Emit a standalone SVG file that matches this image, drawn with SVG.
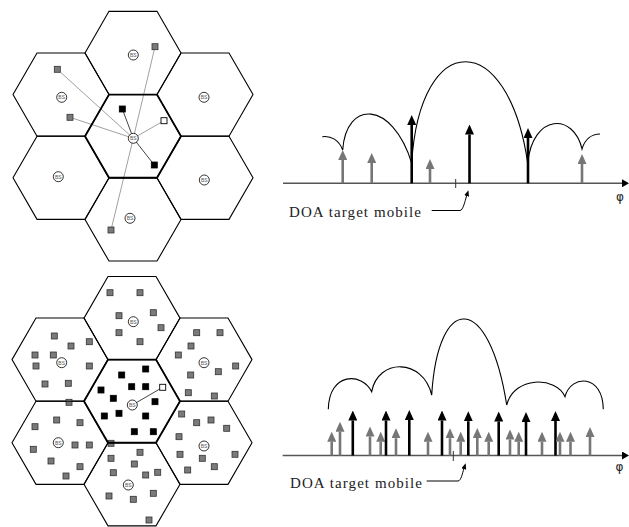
<svg xmlns="http://www.w3.org/2000/svg" xmlns:xlink="http://www.w3.org/1999/xlink" width="629" height="527" viewBox="0 0 629 527">
<style>
.hex{fill:none;stroke:#000;stroke-width:1.1}
.hexc{fill:none;stroke:#000;stroke-width:1.8}
.bs{fill:#fff;stroke:#000;stroke-width:0.8}
.bst{font-family:"Liberation Sans",Arial,sans-serif;font-size:5px;fill:#555;text-anchor:middle}
.mg{fill:#7a7a7a;stroke:#333;stroke-width:0.8}
.mk{fill:#000;stroke:#000;stroke-width:0.8}
.mw{fill:#fff;stroke:#000;stroke-width:0.9}
.ln{stroke:#888;stroke-width:0.8;fill:none}
.lnk{stroke:#444;stroke-width:1;fill:none}
.axis{stroke:#555;stroke-width:1.5;fill:none}
.ag{stroke:#767676;stroke-width:2.6;marker-end:url(#hg)}
.ak{stroke:#000;stroke-width:2.6;marker-end:url(#hk)}
.curve{fill:none;stroke:#000;stroke-width:1.1}
.lbl{font-family:"Liberation Serif","Times New Roman",serif;font-size:15px;fill:#222}
.phi{font-family:"DejaVu Sans",sans-serif;font-size:12px;fill:#222;text-anchor:middle}
.lead{fill:none;stroke:#000;stroke-width:1;marker-end:url(#hs)}
.tick{stroke:#333;stroke-width:1}
</style>
<defs>
<polygon id="hx" points="-48,0 -24,-41.57 24,-41.57 48,0 24,41.57 -24,41.57"/>
<marker id="hg" viewBox="0 -4.5 10 9" refX="0" refY="0" markerWidth="10" markerHeight="9" markerUnits="userSpaceOnUse" orient="auto"><path d="M0,-4.5 L10,0 L0,4.5 z" fill="#767676"/></marker>
<marker id="hk" viewBox="0 -4.5 10 9" refX="0" refY="0" markerWidth="10" markerHeight="9" markerUnits="userSpaceOnUse" orient="auto"><path d="M0,-4.5 L10,0 L0,4.5 z" fill="#000"/></marker>
<marker id="hs" viewBox="0 -2.5 6 5" refX="0" refY="0" markerWidth="6" markerHeight="5" markerUnits="userSpaceOnUse" orient="auto"><path d="M0,-2.5 L6,0 L0,2.5 z" fill="#000"/></marker>
<marker id="ha" viewBox="0 -4 7 8" refX="0" refY="0" markerWidth="7" markerHeight="8" markerUnits="userSpaceOnUse" orient="auto"><path d="M0,-4 L7,0 L0,4 z" fill="#000"/></marker>
</defs>
<rect width="629" height="527" fill="#fff"/>

<!-- connectors of top cell grid -->
<g id="connectors">
<line class="ln" x1="133.3" y1="138.3" x2="155" y2="46.7"/>
<line class="ln" x1="133.3" y1="138.3" x2="57.3" y2="69.3"/>
<line class="ln" x1="133.3" y1="138.3" x2="70" y2="117.3"/>
<line class="lnk" x1="133.3" y1="138.3" x2="122.3" y2="109"/>
<line class="ln" x1="133.3" y1="138.3" x2="164" y2="120.7"/>
<line class="lnk" x1="133.3" y1="138.3" x2="154.3" y2="165"/>
<line class="ln" x1="133.3" y1="138.3" x2="111" y2="230"/>
<line class="lnk" x1="132.3" y1="405" x2="162.7" y2="387.3"/>
</g>

<!-- top cell grid -->
<g id="t-top"><use href="#hx" class="hex" x="133" y="52.9"/>
<circle class="bs" cx="133.3" cy="55" r="5"/><text class="bst" x="133.3" y="56.8">BS</text>
<rect class="mg" x="152" y="43.7" width="6" height="6"/></g>
<g id="t-ul"><use href="#hx" class="hex" x="61" y="94.6"/>
<circle class="bs" cx="61.7" cy="97.3" r="5"/><text class="bst" x="61.7" y="99.1">BS</text>
<rect class="mg" x="54.3" y="66.3" width="6" height="6"/>
<rect class="mg" x="67" y="114.3" width="6" height="6"/></g>
<g id="t-ur"><use href="#hx" class="hex" x="205" y="94.6"/>
<circle class="bs" cx="204" cy="97.3" r="5"/><text class="bst" x="204" y="99.1">BS</text></g>
<g id="t-ll"><use href="#hx" class="hex" x="61" y="177.8"/>
<circle class="bs" cx="58.3" cy="176.7" r="5"/><text class="bst" x="58.3" y="178.5">BS</text></g>
<g id="t-lr"><use href="#hx" class="hex" x="205" y="177.8"/>
<circle class="bs" cx="204.3" cy="180" r="5"/><text class="bst" x="204.3" y="181.8">BS</text></g>
<g id="t-bot"><use href="#hx" class="hex" x="133" y="219.5"/>
<circle class="bs" cx="130" cy="218.3" r="5"/><text class="bst" x="130" y="220.1">BS</text>
<rect class="mg" x="108" y="227" width="6" height="6"/></g>
<g id="t-center"><use href="#hx" class="hexc" x="133" y="136.2"/>
<circle class="bs" cx="133.3" cy="138.3" r="5"/><text class="bst" x="133.3" y="140.1">BS</text>
<rect class="mk" x="119.3" y="106" width="6" height="6"/>
<rect class="mw" x="161" y="117.7" width="6" height="6"/>
<rect class="mk" x="151.3" y="162" width="6" height="6"/></g>

<!-- bottom cell grid -->
<g id="b-top"><use href="#hx" class="hex" x="132" y="318.1"/>
<circle class="bs" cx="133.3" cy="321.7" r="5"/><text class="bst" x="133.3" y="323.5">BS</text>
<rect class="mg" x="107" y="289.7" width="6" height="6"/><rect class="mg" x="137" y="289.7" width="6" height="6"/>
<rect class="mg" x="116" y="312.7" width="6" height="6"/><rect class="mg" x="150.3" y="309.7" width="6" height="6"/>
<rect class="mg" x="158" y="324.7" width="6" height="6"/><rect class="mg" x="116" y="329.7" width="6" height="6"/>
<rect class="mg" x="137" y="338.7" width="6" height="6"/></g>
<g id="b-ul"><use href="#hx" class="hex" x="60" y="359.6"/>
<circle class="bs" cx="61.7" cy="362.7" r="5"/><text class="bst" x="61.7" y="364.5">BS</text>
<rect class="mg" x="51.3" y="333" width="6" height="6"/><rect class="mg" x="68" y="343" width="6" height="6"/>
<rect class="mg" x="86.3" y="338.7" width="6" height="6"/><rect class="mg" x="32" y="352" width="6" height="6"/>
<rect class="mg" x="50.3" y="352" width="6" height="6"/><rect class="mg" x="33" y="363" width="6" height="6"/>
<rect class="mg" x="86.3" y="363" width="6" height="6"/><rect class="mg" x="42" y="381" width="6" height="6"/>
<rect class="mg" x="65.3" y="380.3" width="6" height="6"/><rect class="mg" x="66" y="399.3" width="6" height="6"/></g>
<g id="b-ur"><use href="#hx" class="hex" x="204" y="359.6"/>
<circle class="bs" cx="204" cy="362.7" r="5"/><text class="bst" x="204" y="364.5">BS</text>
<rect class="mg" x="193.7" y="329.7" width="6" height="6"/><rect class="mg" x="217" y="329.7" width="6" height="6"/>
<rect class="mg" x="188" y="343" width="6" height="6"/><rect class="mg" x="175.3" y="352" width="6" height="6"/>
<rect class="mg" x="215.3" y="368.7" width="6" height="6"/><rect class="mg" x="232.7" y="363" width="6" height="6"/>
<rect class="mg" x="187.7" y="372" width="6" height="6"/><rect class="mg" x="185.3" y="389.7" width="6" height="6"/>
<rect class="mg" x="211.3" y="393" width="6" height="6"/></g>
<g id="b-ll"><use href="#hx" class="hex" x="60" y="442.8"/>
<circle class="bs" cx="58.3" cy="442.7" r="5"/><text class="bst" x="58.3" y="444.5">BS</text>
<rect class="mg" x="53.7" y="417" width="6" height="6"/><rect class="mg" x="77" y="419.7" width="6" height="6"/>
<rect class="mg" x="32" y="423.7" width="6" height="6"/><rect class="mg" x="72" y="442" width="6" height="6"/>
<rect class="mg" x="86.3" y="442" width="6" height="6"/><rect class="mg" x="30.3" y="446.3" width="6" height="6"/>
<rect class="mg" x="48" y="458" width="6" height="6"/><rect class="mg" x="77" y="463.7" width="6" height="6"/>
<rect class="mg" x="63" y="473" width="6" height="6"/><rect class="mg" x="108" y="440.3" width="6" height="6"/></g>
<g id="b-lr"><use href="#hx" class="hex" x="204" y="442.8"/>
<circle class="bs" cx="204" cy="446" r="5"/><text class="bst" x="204" y="447.8">BS</text>
<rect class="mg" x="178.7" y="411" width="6" height="6"/><rect class="mg" x="193.7" y="419.7" width="6" height="6"/>
<rect class="mg" x="208" y="417" width="6" height="6"/><rect class="mg" x="223.7" y="425.3" width="6" height="6"/>
<rect class="mg" x="176" y="433.7" width="6" height="6"/><rect class="mg" x="177" y="451.3" width="6" height="6"/>
<rect class="mg" x="199.3" y="455.3" width="6" height="6"/><rect class="mg" x="232" y="451.3" width="6" height="6"/>
<rect class="mg" x="184.7" y="467" width="6" height="6"/><rect class="mg" x="211.3" y="463.7" width="6" height="6"/></g>
<g id="b-bot"><use href="#hx" class="hex" x="132" y="484.3"/>
<circle class="bs" cx="128.3" cy="485" r="5"/><text class="bst" x="128.3" y="486.8">BS</text>
<rect class="mg" x="137" y="449.3" width="6" height="6"/><rect class="mg" x="108" y="455.3" width="6" height="6"/>
<rect class="mg" x="131.3" y="461" width="6" height="6"/><rect class="mg" x="110.3" y="469.7" width="6" height="6"/>
<rect class="mg" x="142.7" y="472" width="6" height="6"/><rect class="mg" x="154.7" y="469.3" width="6" height="6"/>
<rect class="mg" x="150.3" y="490.3" width="6" height="6"/><rect class="mg" x="106" y="493" width="6" height="6"/>
<rect class="mg" x="130.3" y="496.3" width="6" height="6"/><rect class="mg" x="146" y="517" width="6" height="6"/></g>
<g id="b-center"><use href="#hx" class="hexc" x="132" y="401.2"/>
<circle class="bs" cx="132.3" cy="405" r="5"/><text class="bst" x="132.3" y="406.8">BS</text>
<rect class="mk" x="142.7" y="366" width="6" height="6"/><rect class="mk" x="118.7" y="372" width="6" height="6"/>
<rect class="mk" x="128.7" y="383.7" width="6" height="6"/><rect class="mk" x="142.7" y="383.7" width="6" height="6"/>
<rect class="mk" x="98" y="387" width="6" height="6"/><rect class="mk" x="110.3" y="395.3" width="6" height="6"/>
<rect class="mk" x="152" y="398.7" width="6" height="6"/><rect class="mk" x="116" y="410.3" width="6" height="6"/>
<rect class="mk" x="101.3" y="413" width="6" height="6"/><rect class="mk" x="142.7" y="413" width="6" height="6"/>
<rect class="mk" x="131.3" y="428.7" width="6" height="6"/><rect class="mk" x="150.3" y="428.7" width="6" height="6"/>
<rect class="mw" x="159.7" y="384.3" width="6" height="6"/></g>

<!-- top angular plot -->
<g id="plot-top">
<path class="curve" d="M322.3,136.7 C331,135.5 339,140 342.7,150 C346,100 392,100 411.7,163 C420,28 508,28 527.7,163 C533,113 574,113 582,149 C585,139 592,134 600,134"/>
<line class="axis" x1="283" y1="183.3" x2="622" y2="183.3" marker-end="url(#ha)"/>
<line class="ag" x1="342.7" y1="183.3" x2="342.7" y2="160"/>
<line class="ag" x1="371.7" y1="183.3" x2="371.7" y2="163"/>
<line class="ak" x1="411.7" y1="183.3" x2="411.7" y2="125"/>
<line class="ag" x1="430" y1="183.3" x2="430" y2="169"/>
<line class="ak" x1="469.5" y1="183.3" x2="469.5" y2="134.5"/>
<line class="ak" x1="528" y1="183.3" x2="528" y2="138"/>
<line class="ag" x1="582" y1="183.3" x2="582" y2="164"/>
<line class="tick" x1="455.7" y1="179" x2="455.7" y2="188"/>
<text class="phi" x="620" y="201">φ</text>
<text class="lbl" x="289" y="216.7" textLength="132" lengthAdjust="spacing">DOA target mobile</text>
<path class="lead" d="M431.7,210.5 L460,210.5 C463,210.5 465,201 466.6,196"/>
</g>

<!-- bottom angular plot -->
<g id="plot-bottom">
<path class="curve" d="M328.3,409.3 C329,372 362,372 371.7,391.7 C378,358 423,358 431.7,395 C438,292 489,292 506.7,405 C514,376 556,376 565,396.7 C571,374 603,374 603.3,409.3"/>
<line class="axis" x1="282.7" y1="455.5" x2="622" y2="455.5" marker-end="url(#ha)"/>
<line class="ag" x1="331.7" y1="455.5" x2="331.7" y2="441.7"/>
<line class="ag" x1="340" y1="455.5" x2="340" y2="431.7"/>
<line class="ak" x1="352.8" y1="455.5" x2="352.8" y2="420.5"/>
<line class="ag" x1="370" y1="455.5" x2="370" y2="436.5"/>
<line class="ag" x1="380.7" y1="455.5" x2="380.7" y2="441.7"/>
<line class="ak" x1="386" y1="455.5" x2="386" y2="420.5"/>
<line class="ag" x1="396" y1="455.5" x2="396" y2="438.2"/>
<line class="ak" x1="409.3" y1="455.5" x2="409.3" y2="420"/>
<line class="ag" x1="428" y1="455.5" x2="428" y2="441.7"/>
<line class="ak" x1="442" y1="455.5" x2="442" y2="420.5"/>
<line class="ag" x1="450" y1="455.5" x2="450" y2="438.2"/>
<line class="ag" x1="460.7" y1="455.5" x2="460.7" y2="441.7"/>
<line class="ak" x1="468.3" y1="455.5" x2="468.3" y2="421.2"/>
<line class="ag" x1="477.3" y1="455.5" x2="477.3" y2="438"/>
<line class="ag" x1="488.7" y1="455.5" x2="488.7" y2="441.7"/>
<line class="ak" x1="498.7" y1="455.5" x2="498.7" y2="421.5"/>
<line class="ag" x1="510" y1="455.5" x2="510" y2="439.5"/>
<line class="ag" x1="518.7" y1="455.5" x2="518.7" y2="441.7"/>
<line class="ak" x1="526" y1="455.5" x2="526" y2="422"/>
<line class="ag" x1="542" y1="455.5" x2="542" y2="441.7"/>
<line class="ak" x1="555.5" y1="455.5" x2="555.5" y2="421"/>
<line class="ag" x1="560" y1="455.5" x2="560" y2="441.7"/>
<line class="ag" x1="570.5" y1="455.5" x2="570.5" y2="441.7"/>
<line class="ag" x1="590" y1="455.5" x2="590" y2="437"/>
<line class="tick" x1="453.3" y1="451" x2="453.3" y2="461"/>
<text class="phi" x="619.5" y="471">φ</text>
<text class="lbl" x="290" y="487.7" textLength="132" lengthAdjust="spacing">DOA target mobile</text>
<path class="lead" d="M426.7,481 L458,481 C461,481 462.5,473 463.8,469"/>
</g>
</svg>
